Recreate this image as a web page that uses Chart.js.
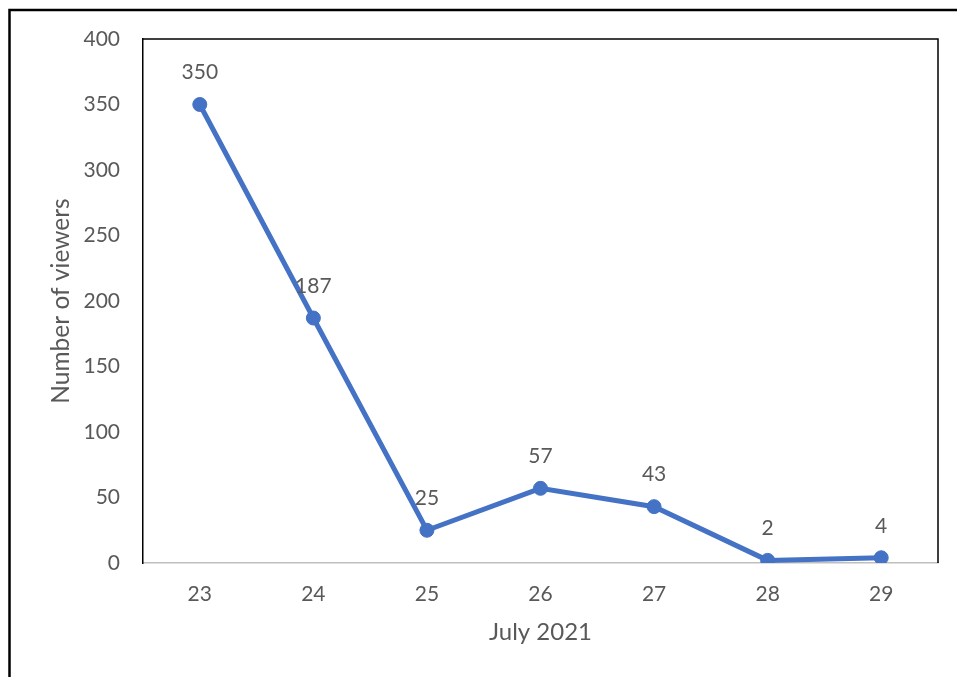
<!DOCTYPE html>
<html>
<head>
<meta charset="utf-8">
<script src="https://cdn.jsdelivr.net/npm/chart.js@4/dist/chart.umd.min.js"></script>
<style>
  html, body { margin: 0; padding: 0; background: #ffffff; overflow: hidden; }
  canvas { display: block; }
</style>
</head>
<body>
<canvas id="c" width="957" height="677"></canvas>
<script>
const categories = ['23', '24', '25', '26', '27', '28', '29'];
const viewers = [350, 187, 25, 57, 43, 2, 4];
const yTicks = [0, 50, 100, 150, 200, 250, 300, 350, 400];
const xTitle = 'July 2021';
const yTitle = 'Number of viewers';

const FONT = 'Lato, "Open Sans", sans-serif';
const TEXT = '#595959';
const LINE = '#4472C4';

const framePlugin = {
  id: 'frame',
  beforeDraw(chart) {
    const ctx = chart.ctx;
    ctx.save();
    ctx.fillStyle = '#ffffff';
    ctx.fillRect(0, 0, chart.width, chart.height);
    ctx.strokeStyle = '#000000';
    ctx.lineWidth = 2.5;
    ctx.beginPath();
    ctx.moveTo(9.5, chart.height + 5);
    ctx.lineTo(9.5, 10);
    ctx.lineTo(chart.width + 5, 10);
    ctx.stroke();
    ctx.restore();
  },
  afterDatasetsDraw(chart) {
    const a = chart.chartArea;
    const ctx = chart.ctx;
    ctx.save();
    ctx.strokeStyle = '#000000';
    ctx.lineWidth = 1.5;
    ctx.beginPath();
    ctx.moveTo(a.left, a.top);
    ctx.lineTo(a.right, a.top);
    ctx.lineTo(a.right, a.bottom);
    ctx.stroke();
    // data labels
    const meta = chart.getDatasetMeta(0);
    ctx.fillStyle = TEXT;
    ctx.font = '21px ' + FONT;
    ctx.textAlign = 'center';
    ctx.textBaseline = 'middle';
    meta.data.forEach((pt, i) => {
      ctx.fillText(String(viewers[i]), pt.x, pt.y - 32);
    });
    ctx.restore();
  }
};

new Chart(document.getElementById('c'), {
  type: 'line',
  data: {
    labels: categories,
    datasets: [{
      data: viewers,
      borderColor: LINE,
      backgroundColor: LINE,
      borderWidth: 5,
      pointRadius: 7,
      pointBorderWidth: 1,
      pointBackgroundColor: LINE,
      pointBorderColor: LINE,
      tension: 0,
      fill: false
    }]
  },
  options: {
    responsive: false,
    animation: false,
    devicePixelRatio: 1,
    layout: { padding: { top: 39, right: 19, left: 0, bottom: 0 } },
    plugins: { legend: { display: false }, tooltip: { enabled: false } },
    scales: {
      x: {
        type: 'category',
        offset: true,
        grid: { display: false, drawTicks: false },
        border: { display: true, color: '#BFBFBF', width: 1.5 },
        ticks: { color: TEXT, font: { family: FONT, size: 21 }, padding: 19, maxRotation: 0 },
        title: { display: true, text: xTitle, color: TEXT, font: { family: FONT, size: 24 }, padding: { top: 0, bottom: 30 } },
        afterFit(s) { s.height = 114; }
      },
      y: {
        min: 0,
        max: 400,
        afterBuildTicks(s) { s.ticks = yTicks.map(v => ({ value: v })); },
        grid: { display: false, drawTicks: false },
        border: { display: true, color: '#000000', width: 1.5 },
        ticks: { color: TEXT, font: { family: FONT, size: 21 }, padding: 23 },
        title: { display: true, text: yTitle, color: TEXT, font: { family: FONT, size: 24.5 }, padding: { top: 46, bottom: 0 } },
        afterFit(s) { s.width = 143; }
      }
    }
  },
  plugins: [framePlugin]
});
</script>
</body>
</html>
